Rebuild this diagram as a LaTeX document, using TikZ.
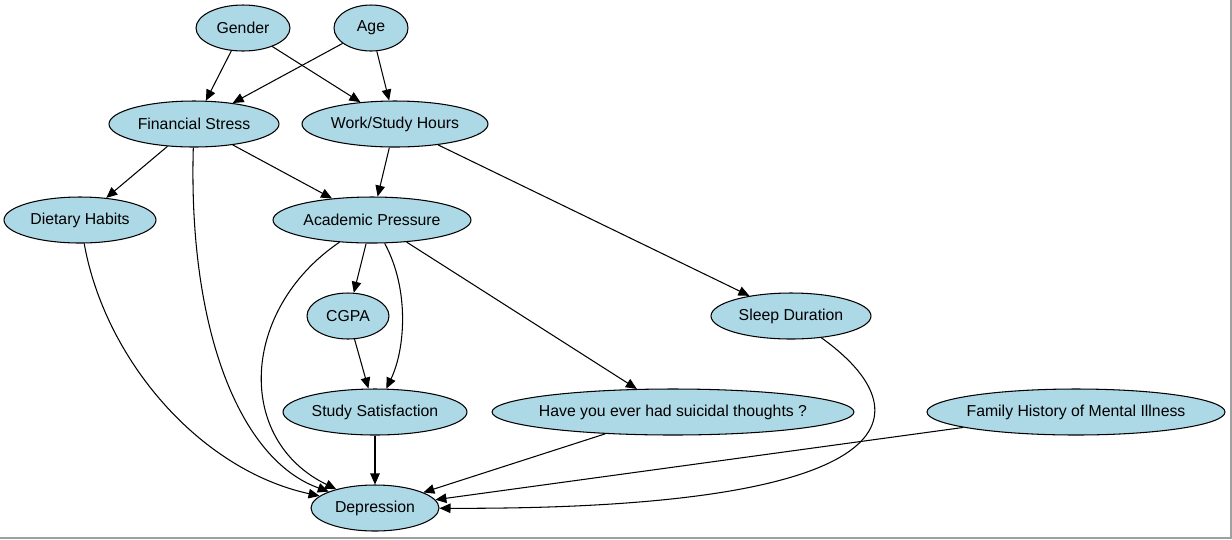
\documentclass[tikz,border=0pt]{standalone}
\usepackage{fontspec}
\setmainfont{Liberation Sans}
\usepackage{xcolor}
\usepackage{tikz}
\usetikzlibrary{arrows.meta,shapes.geometric}
\definecolor{NodeBlue}{HTML}{ADD8E6}
\definecolor{FrameGray}{HTML}{A0A0A0}
\newcommand{\nlabel}[1]{\makebox[0pt]{#1}}

\begin{document}
\begin{tikzpicture}[x=0.02cm,y=-0.02cm,
  var/.style={ellipse,draw=black,line width=0.6pt,fill=NodeBlue,inner sep=0pt,
              minimum height=0.92cm,font=\fontsize{9}{10.8}\selectfont},
  edge/.style={line width=0.6pt,-{Triangle[length=2.2mm,width=1.9mm]}}]
\useasboundingbox (0,0) rectangle (1232,539);
\draw[FrameGray,line width=0.6pt] (1231,0) -- (1231,538) -- (0,538);
% variables
\node[var,minimum width=1.88cm] (gender) at (243,28) {\nlabel{Gender}};
\node[var,minimum width=1.48cm] (age) at (371,28) {\nlabel{Age}};
\node[var,minimum width=3.40cm] (fin) at (194,124) {\nlabel{Financial Stress}};
\node[var,minimum width=3.72cm] (work) at (395,124) {\nlabel{Work/Study Hours}};
\node[var,minimum width=3.04cm] (diet) at (80,220) {\nlabel{Dietary Habits}};
\node[var,minimum width=3.96cm] (acad) at (372,220) {\nlabel{Academic Pressure}};
\node[var,minimum width=1.64cm] (cgpa) at (348,316) {\nlabel{CGPA}};
\node[var,minimum width=3.20cm] (sleep) at (791,316) {\nlabel{Sleep Duration}};
\node[var,minimum width=3.68cm] (study) at (375,412) {\nlabel{Study Satisfaction}};
\node[var,minimum width=7.24cm] (suic) at (673,412) {\nlabel{Have you ever had suicidal thoughts ?}};
\node[var,minimum width=5.96cm] (family) at (1076,412) {\nlabel{Family History of Mental Illness}};
\node[var,minimum width=2.56cm] (depr) at (375,508) {\nlabel{Depression}};
% straight edges
\draw[edge] (gender) -- (fin);
\draw[edge] (gender) -- (work);
\draw[edge] (age) -- (fin);
\draw[edge] (age) -- (work);
\draw[edge] (fin) -- (diet);
\draw[edge] (fin) -- (acad);
\draw[edge] (work) -- (acad);
\draw[edge] (work) -- (sleep);
\draw[edge] (acad) -- (cgpa);
\draw[edge] (acad) -- (suic);
\draw[edge] (cgpa) -- (study);
\draw[edge] (study) -- (depr);
\draw[edge] (suic) -- (depr);
\draw[edge] (family) -- (depr);
% curved edges
\draw[edge] (fin) .. controls (188,330) and (240,460) .. (depr);
\draw[edge] (diet) .. controls (105,360) and (200,470) .. (depr);
\draw[edge] (acad) .. controls (240,310) and (235,440) .. (depr);
\draw[edge] (acad) .. controls (410,290) and (405,350) .. (study);
\draw[edge] (sleep) .. controls (925,412) and (915,510) .. (depr);
\end{tikzpicture}
\end{document}
